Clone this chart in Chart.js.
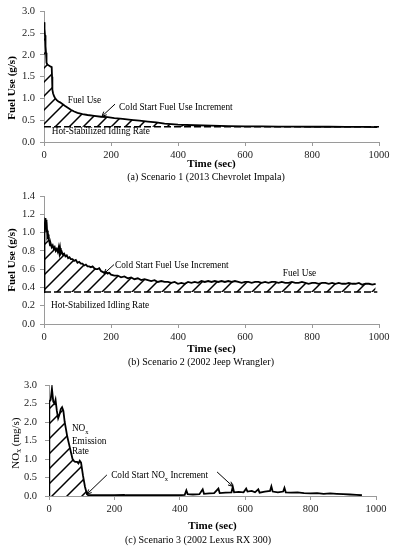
<!DOCTYPE html>
<html><head><meta charset="utf-8">
<script src="https://cdn.jsdelivr.net/npm/chart.js@4.4.1/dist/chart.umd.min.js"></script>
<style>
html,body{margin:0;padding:0;background:#fff;}
#wrap{position:relative;width:396px;height:550px;overflow:hidden;background:#fff;}
canvas{position:absolute;left:0;}
</style></head><body>
<div id="wrap">
<canvas id="cA" width="396" height="184" style="top:0px"></canvas>
<canvas id="cB" width="396" height="184" style="top:184px"></canvas>
<canvas id="cC" width="396" height="182" style="top:368px"></canvas>
</div>
<script>
// ---------- DATA ----------
const xTicks = [0, 200, 400, 600, 800, 1000];

// (a) Scenario 1 (2013 Chevrolet Impala)
const timeA = [0,1,2,3,4,5,6,7,8,10,13,16,20,23,24,25,27,30,33,38,43,48,55,62,70,80,90,100,115,130,150,170,190,210,235,260,285,310,335,360,400,450,500,550,600,650,700,750,800,850,900,950,995];
const fuelA = [2.75,2.72,2.6,2.45,2.3,2.2,2.05,1.92,1.82,1.78,1.76,1.75,1.73,1.72,1.5,1.2,1.12,1.05,1.01,0.96,0.93,0.91,0.87,0.83,0.79,0.74,0.70,0.67,0.64,0.62,0.60,0.58,0.57,0.55,0.53,0.51,0.49,0.47,0.45,0.42,0.40,0.385,0.375,0.365,0.36,0.36,0.355,0.355,0.35,0.35,0.345,0.345,0.34];
const idleA = 0.35;

// (b) Scenario 2 (2002 Jeep Wrangler)
const timeB = [0,1,2,3,4,5,6,7,8,9,10,12,14,16,18,20,23,26,29,32,35,38,41,44,46,48,50,53,56,60,64,68,72,76,80,85,90,95,100,105,110,115,120,125,130,135,140,145,150,155,160,165,170,175,180,185,190,195,200,210,220,230,240,250,260,270,280,290,300,310,320,330,340,350,360,370,380,390,400,410,420,430,440,450,460,470,480,490,500,510,520,530,540,550,560,570,580,590,600,610,620,630,640,650,660,670,680,690,700,710,720,730,740,750,760,770,780,790,800,810,820,830,840,850,860,870,880,890,900,910,920,930,940,950,960,970,980,990];
const fuelB = [0.35,0.9,1.05,1.12,1.16,1.1,1.14,1.08,1.0,1.03,0.96,0.98,0.92,0.9,0.86,0.88,0.84,0.86,0.82,0.84,0.8,0.82,0.79,0.84,0.78,0.83,0.77,0.79,0.76,0.77,0.74,0.75,0.72,0.73,0.71,0.71,0.69,0.70,0.67,0.68,0.66,0.66,0.64,0.65,0.63,0.63,0.62,0.63,0.61,0.60,0.60,0.61,0.58,0.57,0.56,0.57,0.55,0.56,0.54,0.53,0.53,0.51,0.52,0.50,0.51,0.49,0.50,0.48,0.49,0.48,0.47,0.48,0.46,0.47,0.46,0.46,0.45,0.46,0.44,0.45,0.44,0.46,0.45,0.46,0.45,0.47,0.46,0.47,0.46,0.47,0.46,0.47,0.46,0.47,0.46,0.47,0.46,0.45,0.46,0.46,0.45,0.46,0.46,0.45,0.46,0.45,0.46,0.46,0.45,0.46,0.45,0.45,0.46,0.45,0.45,0.46,0.45,0.44,0.45,0.45,0.44,0.45,0.45,0.44,0.45,0.44,0.45,0.44,0.44,0.45,0.44,0.44,0.45,0.43,0.44,0.44,0.43,0.44];
const idleB = 0.35;

// (c) Scenario 3 (2002 Lexus RX 300)
const timeC = [0,1,5,9,13,17,20,24,28,32,36,40,44,48,52,56,60,64,68,72,76,80,86,90,94,98,104,110,116,120,130,150,200,230,235,300,350,400,415,420,424,440,460,470,474,490,505,518,522,540,558,562,566,580,595,603,607,620,630,640,644,660,676,680,684,700,716,720,724,740,760,780,800,820,840,860,880,900,920,940,957];
const noxC = [0,2.55,2.6,2.9,2.55,2.5,2.6,2.3,2.1,2.2,2.35,2.4,2.3,2.0,1.8,1.6,1.45,1.3,1.15,1.0,0.95,0.92,0.92,0.88,0.95,0.9,0.55,0.25,0.05,0.02,0.02,0.02,0.02,0.03,0.02,0.02,0.02,0.02,0.03,0.15,0.05,0.04,0.05,0.18,0.06,0.07,0.08,0.2,0.08,0.09,0.1,0.25,0.1,0.11,0.1,0.2,0.12,0.14,0.1,0.18,0.09,0.12,0.14,0.26,0.12,0.1,0.12,0.22,0.1,0.09,0.1,0.08,0.07,0.08,0.06,0.07,0.06,0.05,0.04,0.03,0.02];
const coldEndC = 120;

// ---------- STYLE / HELPERS ----------
const F = "'Liberation Serif','Times New Roman',serif";
const AX = '#9a9a9a';

function hatch(size, lw){
  const c = document.createElement('canvas'); c.width = size; c.height = size;
  const g = c.getContext('2d');
  g.strokeStyle = '#000'; g.lineWidth = lw;
  g.beginPath();
  g.moveTo(0, size); g.lineTo(size, 0);
  g.moveTo(-2, 2); g.lineTo(2, -2);
  g.moveTo(size-2, size+2); g.lineTo(size+2, size-2);
  g.stroke();
  return g.createPattern(c, 'repeat');
}

function drawRich(ctx, parts, x, y, size, weight, align){
  ctx.textBaseline = 'middle';
  ctx.textAlign = 'left';
  let w = 0;
  parts.forEach(p => {
    ctx.font = (weight||'normal') + ' ' + (p.sub ? size*0.7 : size) + 'px ' + F;
    w += ctx.measureText(p.t).width;
  });
  let cx = align === 'center' ? x - w/2 : x;
  parts.forEach(p => {
    ctx.font = (weight||'normal') + ' ' + (p.sub ? size*0.7 : size) + 'px ' + F;
    ctx.fillText(p.t, cx, p.sub ? y + size*0.3 : y);
    cx += ctx.measureText(p.t).width;
  });
}

const notes = {
  id: 'notes',
  afterDatasetsDraw(chart, args, opts){
    const ctx = chart.ctx, xs = chart.scales.x, ys = chart.scales.y;
    ctx.save();
    ctx.fillStyle = '#000'; ctx.strokeStyle = '#000';
    (opts.items || []).forEach(it => {
      if (it.type === 'text'){
        drawRich(ctx, it.parts, xs.getPixelForValue(it.x), ys.getPixelForValue(it.y), it.size || 9.3, 'normal', 'left');
      } else if (it.type === 'arrow'){
        const x1 = xs.getPixelForValue(it.x1), y1 = ys.getPixelForValue(it.y1);
        const x2 = xs.getPixelForValue(it.x2), y2 = ys.getPixelForValue(it.y2);
        ctx.lineWidth = 1;
        ctx.beginPath(); ctx.moveTo(x1, y1); ctx.lineTo(x2, y2); ctx.stroke();
        const a = Math.atan2(y2 - y1, x2 - x1), L = 5;
        ctx.beginPath();
        ctx.moveTo(x2 - L*Math.cos(a - 0.45), y2 - L*Math.sin(a - 0.45));
        ctx.lineTo(x2, y2);
        ctx.lineTo(x2 - L*Math.cos(a + 0.45), y2 - L*Math.sin(a + 0.45));
        ctx.stroke();
      }
    });
    const t = opts.yTitle;
    if (t){
      ctx.save();
      const cx = chart.chartArea.left + t.dx, cy = ys.getPixelForValue(t.at);
      ctx.translate(cx, cy); ctx.rotate(-Math.PI/2);
      drawRich(ctx, t.parts, 0, 0, 11, t.weight, 'center');
      ctx.restore();
    }
    const c = opts.caption;
    if (c){
      drawRich(ctx, [{ t: c.text }], c.cx, chart.height - c.fromBottom, 10, 'normal', 'center');
    }
    ctx.restore();
  }
};

function makeChart(id, g){
  return new Chart(document.getElementById(id), {
    type: 'line',
    data: { datasets: g.datasets },
    plugins: [notes],
    options: {
      responsive: false, animation: false, devicePixelRatio: 1,
      layout: { padding: { top: g.padTop, right: g.padRight, left: 0, bottom: g.padBottom } },
      elements: { point: { radius: 0 }, line: { tension: 0 } },
      scales: {
        x: {
          type: 'linear', min: 0, max: 1000,
          afterBuildTicks: s => { s.ticks = xTicks.map(v => ({ value: v })); },
          ticks: { font: { family: F, size: 10.5 }, color: '#222', padding: 3, maxRotation: 0, callback: v => String(v) },
          grid: { drawOnChartArea: false, tickLength: 4, color: AX },
          border: { color: AX, width: 1 },
          title: { display: true, text: 'Time (sec)', color: '#000', font: { family: F, size: 11, weight: 'bold' }, padding: { top: 0, bottom: g.xTitlePad } },
          afterFit: s => { s.height = g.xH; }
        },
        y: {
          min: 0, max: g.yMax,
          afterBuildTicks: s => { s.ticks = g.yTicks.map(v => ({ value: v })); },
          ticks: { font: { family: F, size: 10.5 }, color: '#222', padding: g.yPad, callback: v => Number(v).toFixed(1) },
          grid: { drawOnChartArea: false, tickLength: 4, color: AX },
          border: { color: AX, width: 1 },
          afterFit: s => { s.width = g.yW; }
        }
      },
      plugins: {
        legend: { display: false }, tooltip: { enabled: false }, title: { display: false },
        notes: { items: g.items, yTitle: g.yTitle, caption: g.caption }
      }
    }
  });
}

const pts = (t, v) => t.map((x, i) => ({ x: x, y: v[i] }));

// (a)
makeChart('cA', {
  padTop: 11, padRight: 17, padBottom: 13, yW: 44, yPad: 5, xH: 29, xTitlePad: 0,
  yMax: 3, yTicks: [0, 0.5, 1, 1.5, 2, 2.5, 3],
  caption: { text: '(a) Scenario 1 (2013 Chevrolet Impala)', cx: 206, fromBottom: 7 },
  datasets: [
    { data: pts(timeA, fuelA), borderColor: '#000', borderWidth: 1.8, fill: { value: idleA }, backgroundColor: hatch(14, 1.5) },
    { data: [{ x: 0, y: idleA }, { x: 1000, y: idleA }], borderColor: '#000', borderWidth: 1.7, borderDash: [7, 3], fill: false }
  ],
  yTitle: { parts: [{ t: 'Fuel Use (g/s)' }], weight: 'bold', dx: -32, at: 1.24 },
  items: [
    { type: 'text', parts: [{ t: 'Fuel Use' }], x: 71, y: 0.94 },
    { type: 'text', parts: [{ t: 'Cold Start Fuel Use Increment' }], x: 224, y: 0.80 },
    { type: 'arrow', x1: 212, y1: 0.87, x2: 173, y2: 0.59 },
    { type: 'text', parts: [{ t: 'Hot-Stabilized Idling Rate' }], x: 23, y: 0.24 }
  ]
});

// (b)
makeChart('cB', {
  padTop: 12, padRight: 17, padBottom: 12, yW: 44, yPad: 5, xH: 32, xTitlePad: 0,
  yMax: 1.4, yTicks: [0, 0.2, 0.4, 0.6, 0.8, 1.0, 1.2, 1.4],
  caption: { text: '(b) Scenario 2 (2002 Jeep Wrangler)', cx: 201, fromBottom: 6 },
  datasets: [
    { data: pts(timeB, fuelB), borderColor: '#000', borderWidth: 1.8, fill: { value: idleB }, backgroundColor: hatch(15, 1.5) },
    { data: [{ x: 0, y: idleB }, { x: 995, y: idleB }], borderColor: '#000', borderWidth: 1.7, borderDash: [7, 3], fill: false }
  ],
  yTitle: { parts: [{ t: 'Fuel Use (g/s)' }], weight: 'bold', dx: -32, at: 0.7 },
  items: [
    { type: 'text', parts: [{ t: 'Cold Start Fuel Use Increment' }], x: 212, y: 0.634 },
    { type: 'arrow', x1: 209, y1: 0.65, x2: 179, y2: 0.55 },
    { type: 'text', parts: [{ t: 'Fuel Use' }], x: 713, y: 0.547 },
    { type: 'text', parts: [{ t: 'Hot-Stabilized Idling Rate' }], x: 21, y: 0.197 }
  ]
});

// (c)
const coldIdx = timeC.filter(t => t <= coldEndC).length;
makeChart('cC', {
  padTop: 17, padRight: 20, padBottom: 16, yW: 49, yPad: 8, xH: 38, xTitlePad: 1,
  yMax: 3, yTicks: [0, 0.5, 1, 1.5, 2, 2.5, 3],
  caption: { text: '(c) Scenario 3 (2002 Lexus RX 300)', cx: 198, fromBottom: 10 },
  datasets: [
    { data: pts(timeC.slice(0, coldIdx), noxC.slice(0, coldIdx)), borderWidth: 0, borderColor: 'rgba(0,0,0,0)', fill: 'origin', backgroundColor: hatch(15, 1.5) },
    { data: pts(timeC, noxC), borderColor: '#000', borderWidth: 1.8, fill: false }
  ],
  yTitle: { parts: [{ t: 'NO' }, { t: 'x', sub: true }, { t: ' (mg/s)' }], weight: 'normal', dx: -33, at: 1.43 },
  items: [
    { type: 'text', parts: [{ t: 'NO' }, { t: 'x', sub: true }], x: 70, y: 1.81 },
    { type: 'text', parts: [{ t: 'Emission' }], x: 70, y: 1.47 },
    { type: 'text', parts: [{ t: 'Rate' }], x: 70, y: 1.19 },
    { type: 'text', parts: [{ t: 'Cold Start NO' }, { t: 'x', sub: true }, { t: ' Increment' }], x: 190, y: 0.54 },
    { type: 'arrow', x1: 177, y1: 0.57, x2: 116, y2: 0.05 },
    { type: 'arrow', x1: 514, y1: 0.65, x2: 562, y2: 0.26 }
  ]
});
</script>
</body></html>
